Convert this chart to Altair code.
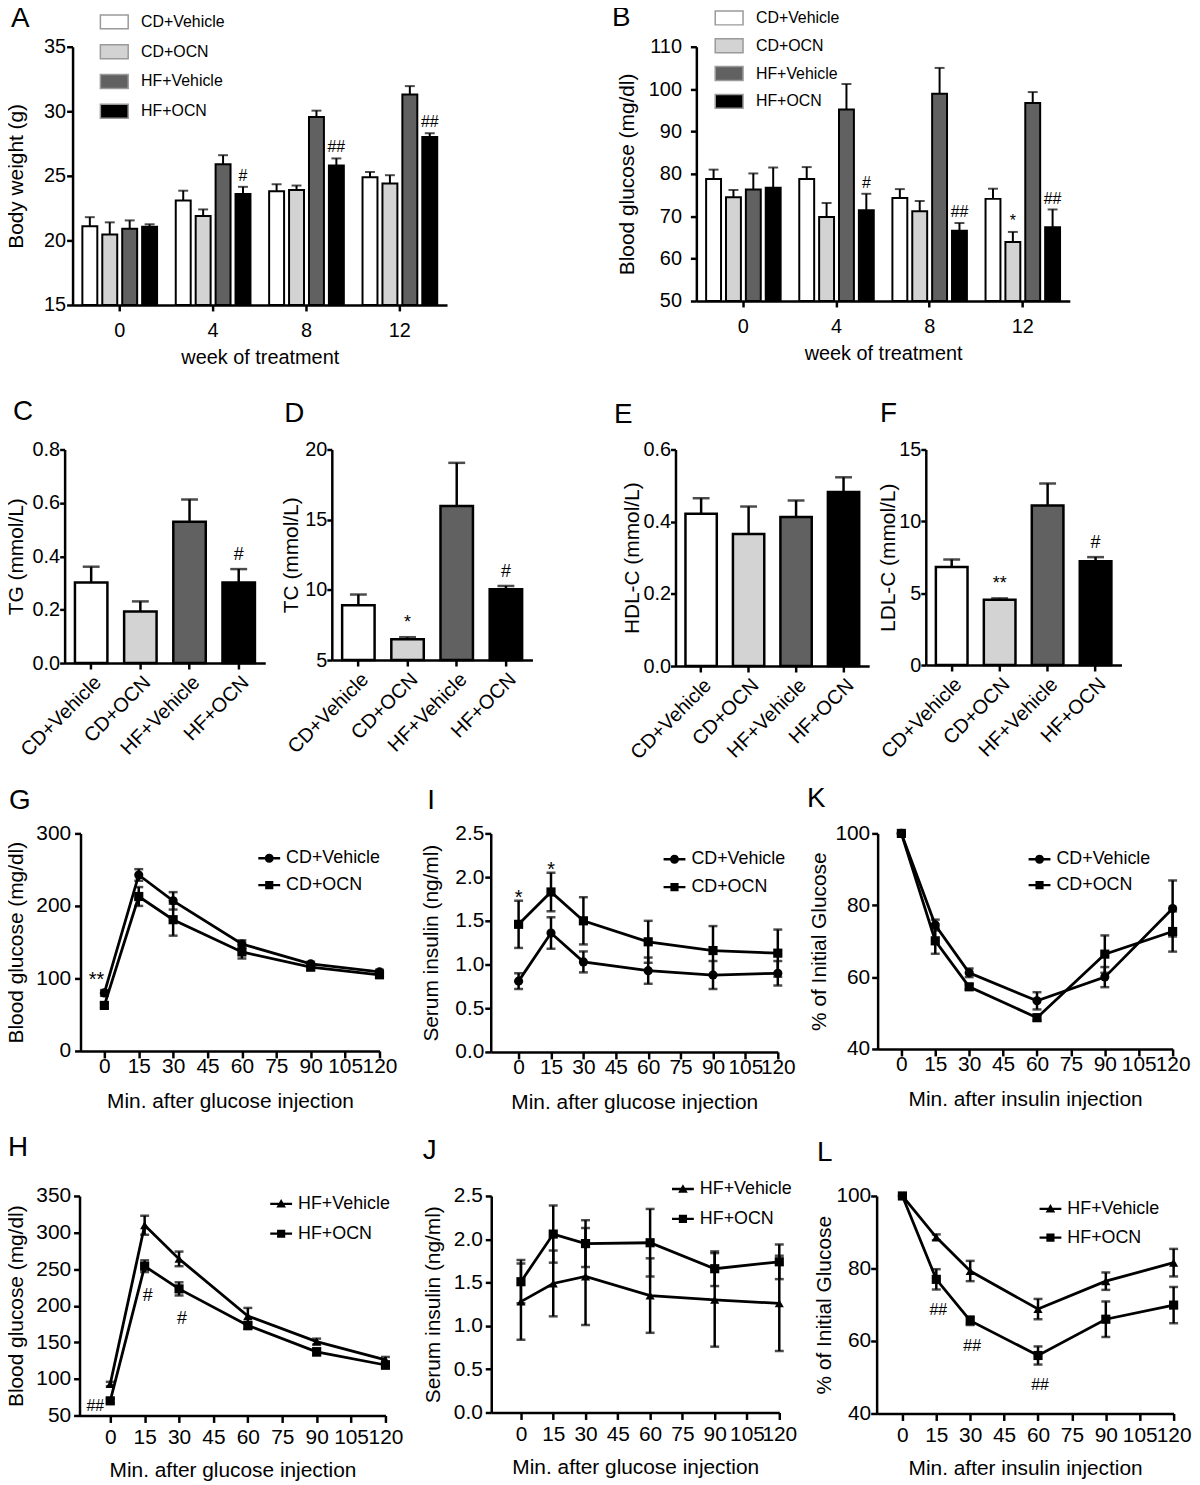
import altair as alt
import pandas as pd

FONT = "Liberation Sans"
GROUPS = ["CD+Vehicle", "CD+OCN", "HF+Vehicle", "HF+OCN"]
FILLS = ["#ffffff", "#d3d3d3", "#616161", "#000000"]

# ---------------- Panel A: body weight (g) ----------------
weeks = ["0", "4", "8", "12"]
bw_cd_veh = [21.1, 23.1, 23.8, 24.9]
bw_cd_veh_err = [0.7, 0.75, 0.55, 0.4]
bw_cd_ocn = [20.45, 21.9, 23.9, 24.4]
bw_cd_ocn_err = [0.95, 0.5, 0.35, 0.65]
bw_hf_veh = [20.9, 25.9, 29.55, 31.3]
bw_hf_veh_err = [0.65, 0.7, 0.5, 0.65]
bw_hf_ocn = [21.05, 23.6, 25.8, 28.0]
bw_hf_ocn_err = [0.2, 0.55, 0.55, 0.3]
bw_notes_hf_ocn = ["", "#", "##", "##"]

# ---------------- Panel B: blood glucose (mg/dl) ----------------
bg_cd_veh = [78.8, 78.8, 74.3, 74.1]
bg_cd_veh_err = [2.2, 2.8, 2.1, 2.4]
bg_cd_ocn = [74.5, 69.8, 71.2, 63.9]
bg_cd_ocn_err = [1.7, 3.3, 2.4, 2.4]
bg_hf_veh = [76.3, 95.2, 98.9, 96.7]
bg_hf_veh_err = [3.8, 6.0, 6.1, 2.6]
bg_hf_ocn = [76.7, 71.4, 66.6, 67.4]
bg_hf_ocn_err = [4.8, 3.9, 1.8, 4.2]
bg_notes_cd_ocn = ["", "", "", "*"]
bg_notes_hf_ocn = ["", "#", "##", "##"]

# ---------------- Panels C-F: lipids ----------------
tg = [0.302, 0.193, 0.529, 0.302]
tg_err = [0.059, 0.038, 0.084, 0.05]
tg_notes = ["", "", "", "#"]
tc = [8.91, 6.49, 15.97, 10.05]
tc_err = [0.76, 0.14, 3.08, 0.23]
tc_notes = ["", "*", "", "#"]
hdl = [0.422, 0.366, 0.413, 0.482]
hdl_err = [0.043, 0.076, 0.046, 0.041]
hdl_notes = ["", "", "", ""]
ldl = [6.82, 4.54, 11.1, 7.23]
ldl_err = [0.53, 0.10, 1.54, 0.28]
ldl_notes = ["", "**", "", "#"]

# ---------------- Panels G-L: time courses ----------------
minutes = [0, 15, 30, 60, 90, 120]
x_ticks = [0, 15, 30, 45, 60, 75, 90, 105, 120]
gtt_cd_veh = [80, 242.7, 207, 147.5, 120, 109]
gtt_cd_veh_err = [4, 8, 12, 5, 3, 3]
gtt_cd_ocn = [62.8, 213, 181, 136.5, 115.5, 105]
gtt_cd_ocn_err = [3, 13, 22, 9, 3, 3]
ins_cd_veh = [0.81, 1.36, 1.03, 0.93, 0.88, 0.90]
ins_cd_veh_err = [0.09, 0.18, 0.12, 0.15, 0.16, 0.14]
ins_cd_ocn = [1.46, 1.83, 1.50, 1.26, 1.16, 1.13]
ins_cd_ocn_err = [0.27, 0.22, 0.27, 0.24, 0.28, 0.27]
itt_cd_veh = [100, 74.5, 61.2, 53.4, 60.0, 79.1]
itt_cd_veh_err = [0, 1.5, 1.2, 2.4, 2.8, 7.8]
itt_cd_ocn = [100, 70.1, 57.3, 48.7, 66.4, 72.7]
itt_cd_ocn_err = [0, 3.6, 0.7, 0.8, 5.2, 5.6]
gtt_hf_veh = [93, 310, 264, 186, 151, 126]
gtt_hf_veh_err = [3, 13, 10, 11, 4, 4]
gtt_hf_ocn = [70, 254, 223, 173, 137, 119]
gtt_hf_ocn_err = [3, 8, 9, 5, 5, 5]
ins_hf_veh = [1.28, 1.49, 1.57, 1.35, 1.30, 1.26]
ins_hf_veh_err = [0.44, 0.38, 0.56, 0.43, 0.54, 0.55]
ins_hf_ocn = [1.51, 2.06, 1.95, 1.96, 1.66, 1.74]
ins_hf_ocn_err = [0.25, 0.33, 0.27, 0.39, 0.20, 0.20]
itt_hf_veh = [100, 88.6, 79.3, 68.8, 76.5, 81.6]
itt_hf_veh_err = [0, 0.8, 2.8, 2.8, 2.4, 3.8]
itt_hf_ocn = [100, 77.0, 65.6, 56.0, 66.0, 69.9]
itt_hf_ocn_err = [0, 2.8, 1.2, 2.5, 4.9, 5.0]

SHAPE_OF = {"CD+Vehicle": "circle", "CD+OCN": "square", "HF+Vehicle": "triangle-up", "HF+OCN": "square"}
# legend symbols: a short filled line segment with the group's marker in the middle
LINE = "M-1.5,-0.16H1.5V0.16H-1.5Z"
LEG_PATH = {
    "circle": LINE + "M0.62,0A0.62,0.62,0,1,1,-0.62,0A0.62,0.62,0,1,1,0.62,0Z",
    "square": LINE + "M-0.56,-0.56H0.56V0.56H-0.56Z",
    "triangle-up": LINE + "M0,-0.66L0.66,0.5H-0.66Z",
}
NO_BORDER = alt.ViewBackground(stroke="transparent", strokeWidth=0)


def axis(label_size=20, title_size=20, title_pad=8, **kw):
    d = dict(domainColor="black", domainWidth=2.5, tickColor="black", tickWidth=2.5, tickSize=6,
             labelColor="black", labelFont=FONT, labelFontSize=label_size, labelPadding=3,
             titleColor="black", titleFont=FONT, titleFontSize=title_size, titleFontWeight="normal",
             titlePadding=title_pad, grid=False, labelOverlap=False, labelFlush=False)
    d.update(kw)
    if "values" in d:
        d["tickCount"] = len(d["values"]) + 1
    return alt.Axis(**d)


def letter(text, dx, dy):
    return alt.TitleParams(text=text, anchor="start", frame="group", dx=dx, dy=dy, fontSize=28,
                           font=FONT, fontWeight="normal", color="black", baseline="alphabetic", offset=0)


def grouped_bars(letter_txt, ldx, ldy, means, errs, notes, ytitle, ydom, yvals, width, height,
                 title_pad, label_pad, lx, ly, rowpad):
    recs = []
    for gi, g in enumerate(GROUPS):
        for ci, c in enumerate(weeks):
            m = means[gi][ci]
            recs.append(dict(cat=c, grp=g, mean=m, hi=m + errs[gi][ci], note=notes[gi][ci]))
    df = pd.DataFrame(recs)
    yscale = alt.Scale(domain=ydom, nice=False, zero=False)
    base = alt.Chart(df).encode(
        x=alt.X("cat:N", sort=weeks, scale=alt.Scale(paddingInner=0.2, paddingOuter=0.105),
                axis=axis(20, 20, 6.5, title="week of treatment", labelAngle=0, labelPadding=10)),
        xOffset=alt.XOffset("grp:N", sort=GROUPS, scale=alt.Scale(paddingInner=0.25)),
    )
    legend = alt.Legend(orient="none", legendX=lx, legendY=ly, title=None, direction="vertical",
                        symbolType="M-1,-0.5H1V0.5H-1Z", symbolSize=784, symbolStrokeWidth=1.5,
                        symbolStrokeColor="#9a9a9a",
                        labelFont=FONT, labelFontSize=16, labelColor="black", labelOffset=12,
                        rowPadding=rowpad, padding=0)
    bars = base.mark_bar(stroke="black", strokeWidth=2).encode(
        y=alt.Y("mean:Q", scale=yscale,
                axis=axis(20, 21, title_pad, title=ytitle, values=yvals, labelPadding=label_pad)),
        y2=alt.datum(ydom[0]),
        fill=alt.Fill("grp:N", sort=GROUPS, scale=alt.Scale(domain=GROUPS, range=FILLS), legend=legend),
    )
    err = base.mark_rule(color="black", strokeWidth=2).encode(y="mean:Q", y2="hi:Q")
    cap = base.mark_tick(orient="horizontal", size=10, thickness=2, color="black").encode(y="hi:Q")
    txt = base.mark_text(baseline="bottom", dy=-3, fontSize=16, font=FONT, color="black").encode(
        y="hi:Q", text="note:N")
    return alt.layer(bars, err, cap, txt).properties(width=width, height=height, view=NO_BORDER,
                                                      title=letter(letter_txt, ldx, ldy))


def single_bars(letter_txt, ldx, ldy, means, errs, notes, ytitle, ydom, yvals, yfmt, width, height,
                title_pad):
    df = pd.DataFrame(dict(grp=GROUPS, mean=means, hi=[m + e for m, e in zip(means, errs)], note=notes))
    yscale = alt.Scale(domain=ydom, nice=False, zero=False)
    base = alt.Chart(df).encode(
        x=alt.X("grp:N", sort=GROUPS, scale=alt.Scale(paddingInner=0.34, paddingOuter=0.21),
                axis=axis(20, 20, 8, title=None, labelAngle=-45)))
    bars = base.mark_bar(stroke="black", strokeWidth=2.5).encode(
        y=alt.Y("mean:Q", scale=yscale,
                axis=axis(20, 21, title_pad, title=ytitle, values=yvals, format=yfmt, tickSize=5,
                          labelPadding=0)),
        y2=alt.datum(ydom[0]),
        fill=alt.Fill("grp:N", sort=GROUPS, scale=alt.Scale(domain=GROUPS, range=FILLS), legend=None),
    )
    err = base.mark_rule(color="black", strokeWidth=2.5).encode(y="mean:Q", y2="hi:Q")
    cap = base.mark_tick(orient="horizontal", size=17, thickness=2.5, color="black").encode(y="hi:Q")
    txt = base.mark_text(baseline="bottom", dy=-5, fontSize=18, font=FONT, color="black").encode(
        y="hi:Q", text="note:N")
    return alt.layer(bars, err, cap, txt).properties(width=width, height=height, view=NO_BORDER,
                                                      title=letter(letter_txt, ldx, ldy))


def line_panel(letter_txt, ldx, ldy, groups, means, errs, ytitle, xtitle, xdom, ydom, yvals, yfmt,
               width, height, title_pad, ylabel_pad, xlabel_pad, xtitle_pad, lx, ly, rowpad, notes=()):
    # notes: (anchor column, group, point indices, texts, text style)
    recs = []
    for gi, g in enumerate(groups):
        for ti, t in enumerate(minutes):
            m = means[gi][ti]
            e = errs[gi][ti]
            recs.append(dict(t=t, grp=g, mean=m, lo=m - e, hi=m + e,
                             note_mean="", note_lo="", note_hi=""))
    df = pd.DataFrame(recs)
    for (which, grp, idxs, texts, _style) in notes:
        for i, txt in zip(idxs, texts):
            row = groups.index(grp) * len(minutes) + i
            df.loc[row, "note_" + which] = txt
    xs = alt.Scale(domain=xdom, nice=False, zero=False)
    ys = alt.Scale(domain=ydom, nice=False, zero=False)
    xax = axis(21, 21, xtitle_pad, title=xtitle, values=x_ticks, tickSize=7, labelBaseline="middle",
               labelPadding=xlabel_pad)
    yax = axis(21, 21, title_pad, title=ytitle, values=yvals, format=yfmt, labelPadding=ylabel_pad)
    base = alt.Chart(df).encode(x=alt.X("t:Q", scale=xs, axis=xax))
    shapes = [SHAPE_OF[g] for g in groups]
    line = base.mark_line(color="black", strokeWidth=2.8).encode(
        y=alt.Y("mean:Q", scale=ys, axis=yax), detail="grp:N")
    rule = base.mark_rule(color="black", strokeWidth=2.5).encode(y="lo:Q", y2="hi:Q")
    cap_hi = base.mark_tick(orient="horizontal", size=9, thickness=2.5, color="black").encode(y="hi:Q")
    cap_lo = base.mark_tick(orient="horizontal", size=9, thickness=2.5, color="black").encode(y="lo:Q")
    pts = base.mark_point(filled=True, opacity=1, size=85, color="black").encode(
        y="mean:Q",
        shape=alt.Shape("grp:N", sort=groups, scale=alt.Scale(domain=groups, range=shapes), legend=None))
    # legend-only layer (no rows drawn)
    leg = base.transform_filter("false").mark_point(filled=True, opacity=1, color="black").encode(
        y="mean:Q",
        shape=alt.Shape("grp:N", sort=groups,
                        scale=alt.Scale(domain=groups, range=[LEG_PATH[s] for s in shapes]),
                        legend=alt.Legend(orient="none", legendX=lx, legendY=ly, title=None,
                                          direction="vertical", symbolSize=215,
                                          symbolStrokeWidth=0.6, symbolStrokeColor="black",
                                          symbolFillColor="black", symbolOpacity=1,
                                          labelFont=FONT, labelFontSize=18,
                                          labelColor="black", labelOffset=8, rowPadding=rowpad,
                                          padding=0)))
    layers = [line, rule, cap_hi, cap_lo, pts, leg]
    for (which, _g, _i, _t, style) in notes:
        layers.append(base.mark_text(font=FONT, color="black", **style).encode(
            y=alt.Y(which + ":Q"), text=alt.Text("note_" + which + ":N")))
    return alt.layer(*layers).resolve_scale(shape="independent").resolve_legend(shape="independent").properties(
        width=width, height=height, view=NO_BORDER, title=letter(letter_txt, ldx, ldy))


def spacer():
    return alt.Chart(pd.DataFrame({"v": [0]})).mark_rect(opacity=0).encode(
        x=alt.value(0), x2=alt.value(1), y=alt.value(0), y2=alt.value(1)).properties(
        width=1, height=1, view=NO_BORDER)


A = grouped_bars("A", -62, 48, [bw_cd_veh, bw_cd_ocn, bw_hf_veh, bw_hf_ocn],
                 [bw_cd_veh_err, bw_cd_ocn_err, bw_hf_veh_err, bw_hf_ocn_err],
                 [[""] * 4, [""] * 4, [""] * 4, bw_notes_hf_ocn],
                 "Body weight (g)", [15, 35], [15, 20, 25, 30, 35], 377, 260, 17, 1, 27, -40, 5)
B = grouped_bars("B", -85, 51, [bg_cd_veh, bg_cd_ocn, bg_hf_veh, bg_hf_ocn],
                 [bg_cd_veh_err, bg_cd_ocn_err, bg_hf_veh_err, bg_hf_ocn_err],
                 [[""] * 4, bg_notes_cd_ocn, [""] * 4, bg_notes_hf_ocn],
                 "Blood glucose (mg/dl)", [50, 110], [50, 60, 70, 80, 90, 100, 110], 376, 256, 11, 9, 18, -44, 3)

C = single_bars("C", -52, 8, tg, tg_err, tg_notes, "TG (mmol/L)", [0, 0.8], [0, 0.2, 0.4, 0.6, 0.8], ".1f", 202, 215, 6)
D = single_bars("D", -48, 10, tc, tc_err, tc_notes, "TC (mmol/L)", [5, 20], [5, 10, 15, 20], "d", 202, 212, 3)
E = single_bars("E", -62, 11, hdl, hdl_err, hdl_notes, "HDL-C (mmol/L)", [0, 0.6], [0, 0.2, 0.4, 0.6], ".1f", 195, 218, 0)
F = single_bars("F", -46, 10, ldl, ldl_err, ldl_notes, "LDL-C (mmol/L)", [0, 15], [0, 5, 10, 15], "d", 197, 217, 0)

CDG = ["CD+Vehicle", "CD+OCN"]
HFG = ["HF+Vehicle", "HF+OCN"]

G = line_panel("G", -72, 14, CDG, [gtt_cd_veh, gtt_cd_ocn], [gtt_cd_veh_err, gtt_cd_ocn_err],
               "Blood glucose (mg/dl)", "Min. after glucose injection", [-10.4, 120], [0, 300],
               [0, 100, 200, 300], "d", 301, 219, 9, 4, 9, 14, 181, 16, 9,
               notes=[("mean", "CD+Vehicle", [0], ["**"], dict(fontSize=20, dx=-8, dy=-13, baseline="middle"))])
I = line_panel("I", -64, 14, CDG, [ins_cd_veh, ins_cd_ocn], [ins_cd_veh_err, ins_cd_ocn_err],
               "Serum insulin (ng/ml)", "Min. after glucose injection", [-12.9, 120], [0, 2.5],
               [0, 0.5, 1.0, 1.5, 2.0, 2.5], ".1f", 289, 220, 13, 1, 9, 14, 176, 17, 10,
               notes=[("hi", "CD+OCN", [0, 1], ["*", "*"], dict(fontSize=20, dy=3, baseline="alphabetic"))])
K = line_panel("K", -71, 12, CDG, [itt_cd_veh, itt_cd_ocn], [itt_cd_veh_err, itt_cd_ocn_err],
               "% of Initial Glucose", "Min. after insulin injection", [-10.5, 120], [40, 100],
               [40, 60, 80, 100], "d", 297, 217, 5, 2, 9, 14, 154, 17, 8)
H = line_panel("H", -72, -1, HFG, [gtt_hf_veh, gtt_hf_ocn], [gtt_hf_veh_err, gtt_hf_ocn_err],
               "Blood glucose (mg/dl)", "Min. after glucose injection", [-13.4, 120], [50, 350],
               [50, 100, 150, 200, 250, 300, 350], "d", 308, 221, 9, 3, 15, 12, 194, -1, 12,
               notes=[("mean", "HF+OCN", [0], ["##"], dict(fontSize=16, dx=-15, dy=5, baseline="middle")),
                      ("lo", "HF+OCN", [1, 2], ["#", "#"], dict(fontSize=18, dx=3, dy=24, baseline="middle"))])
J = line_panel("J", -69, 7, HFG, [ins_hf_veh, ins_hf_ocn], [ins_hf_veh_err, ins_hf_ocn_err],
               "Serum insulin (ng/ml)", "Min. after glucose injection", [-13.8, 120], [0, 2.5],
               [0, 0.5, 1.0, 1.5, 2.0, 2.5], ".1f", 290, 218, 10, 3, 15, 12, 184, -16, 12)
L = line_panel("L", -60, 4, HFG, [itt_hf_veh, itt_hf_ocn], [itt_hf_veh_err, itt_hf_ocn_err],
               "% of Initial Glucose", "Min. after insulin injection", [-11.4, 120], [40, 100],
               [40, 60, 80, 100], "d", 299, 219, 1, 0, 15, 12, 166, 4, 11,
               notes=[("lo", "HF+OCN", [1, 2, 3], ["##", "##", "##"], dict(fontSize=16, dx=2, dy=21, baseline="middle"))])


def ind(c):
    return c.resolve_scale(fill="independent", shape="independent", xOffset="independent").resolve_legend(
        fill="independent", shape="independent")


def hrow(a, b, sp):
    return ind(alt.hconcat(a, b, spacing=sp))


def vstack(a, b, sp):
    return ind(alt.concat(a, b, columns=1, spacing=sp, align="none"))


row1 = hrow(spacer(), hrow(A, B, 166), 0)
row2 = hrow(spacer(), hrow(hrow(C, D, 15), hrow(E, F, 8), 82), 0)
row3 = hrow(spacer(), hrow(hrow(G, I, 23), K, 11.5), 0)
row4 = hrow(spacer(), hrow(hrow(H, J, 18.5), L, 15.5), 0)

top = vstack(vstack(vstack(row1, row2, 30.5), row3, 22), row4, 22)

chart = top.properties(padding={"left": -4, "top": -10, "right": 0, "bottom": 0}).configure(
    background="white").configure_view(stroke="transparent", strokeWidth=0)
chart.save("out.html", embed_options={"renderer": "svg", "actions": False})
